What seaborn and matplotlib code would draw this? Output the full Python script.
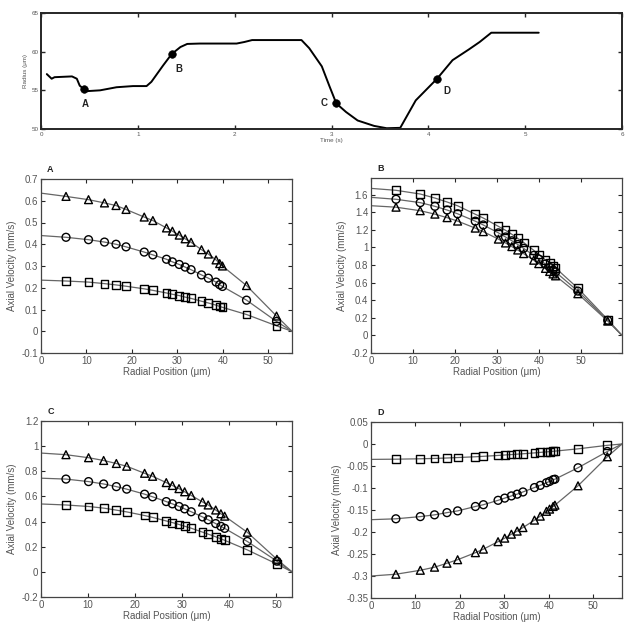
import numpy as np
import pandas as pd
import matplotlib
matplotlib.use("Agg")
import matplotlib.pyplot as plt
import seaborn as sns

sns.set_style("ticks")
plt.rcParams['font.family'] = ['Liberation Sans', 'DejaVu Sans']

# ---------------- top panel: vessel radius vs time ----------------
time_s = [0.06, 0.11, 0.14, 0.32, 0.37, 0.40, 0.44, 0.48, 0.61, 0.78, 0.95, 1.09, 1.14,
          1.26, 1.35, 1.44, 1.51, 1.64, 2.02, 2.10, 2.18, 2.69, 2.77, 2.90, 2.98, 3.05,
          3.15, 3.27, 3.44, 3.57, 3.71, 3.87, 4.09, 4.25, 4.42, 4.53, 4.65, 5.14]
radius_um = [57.1, 56.5, 56.7, 56.8, 56.5, 55.6, 55.2, 54.9, 55.0, 55.4, 55.55, 55.55, 56.1,
             58.2, 59.7, 60.6, 61.0, 61.05, 61.05, 61.25, 61.5, 61.5, 60.45, 58.1, 55.5, 53.3,
             52.2, 51.1, 50.4, 50.1, 50.15, 53.7, 56.5, 58.9, 60.3, 61.25, 62.45, 62.45]
event_labels = ["A", "B", "C", "D"]
event_time = [0.44, 1.35, 3.05, 4.09]
event_radius = [55.2, 59.7, 53.3, 56.5]

# ---------------- velocity profiles ----------------
posA = [5.5, 10.45, 13.96, 16.5, 18.7, 22.7, 24.6, 27.6, 28.9, 30.4, 31.7, 33.0, 35.3,
        36.8, 38.5, 39.3, 39.9, 45.2, 51.8]
A_tri = [0.62, 0.605, 0.59, 0.578, 0.56, 0.525, 0.509, 0.475, 0.46, 0.442, 0.425, 0.409,
         0.375, 0.355, 0.328, 0.311, 0.30, 0.21, 0.07]
A_cir = [0.432, 0.421, 0.41, 0.40, 0.388, 0.364, 0.351, 0.331, 0.319, 0.307, 0.295,
         0.283, 0.259, 0.244, 0.226, 0.214, 0.206, 0.143, 0.045]
A_sq = [0.231, 0.226, 0.219, 0.213, 0.207, 0.195, 0.188, 0.176, 0.17, 0.164, 0.157,
        0.151, 0.138, 0.13, 0.12, 0.114, 0.11, 0.077, 0.025]
A_start = [0.635, 0.44, 0.235]
A_R = 55.2

posB = [5.95, 11.7, 15.2, 18.1, 20.6, 24.8, 26.7, 30.3, 32.0, 33.5, 34.9, 36.3, 38.7,
        39.9, 41.5, 42.5, 43.3, 43.9, 49.2, 56.3]
B_sq = [1.65, 1.608, 1.562, 1.517, 1.474, 1.378, 1.335, 1.24, 1.195, 1.15, 1.103, 1.057,
        0.968, 0.92, 0.858, 0.82, 0.792, 0.767, 0.537, 0.18]
B_cir = [1.548, 1.51, 1.468, 1.426, 1.383, 1.299, 1.256, 1.166, 1.119, 1.076, 1.034, 0.99,
         0.91, 0.869, 0.811, 0.774, 0.744, 0.721, 0.504, 0.172]
B_tri = [1.458, 1.418, 1.379, 1.339, 1.30, 1.22, 1.18, 1.095, 1.051, 1.01, 0.971, 0.93,
         0.855, 0.816, 0.762, 0.727, 0.699, 0.677, 0.474, 0.163]
B_start = [1.672, 1.57, 1.475]
B_R = 59.7

posC = [5.3, 10.1, 13.3, 16.0, 18.2, 22.0, 23.7, 26.6, 27.9, 29.3, 30.5, 31.9, 34.3,
        35.5, 37.1, 38.2, 39.0, 43.8, 50.1]
C_tri = [0.932, 0.908, 0.886, 0.862, 0.84, 0.784, 0.76, 0.71, 0.687, 0.662, 0.637, 0.608,
         0.556, 0.532, 0.492, 0.462, 0.443, 0.315, 0.10]
C_cir = [0.738, 0.718, 0.699, 0.678, 0.658, 0.618, 0.597, 0.559, 0.541, 0.52, 0.501,
         0.478, 0.437, 0.414, 0.384, 0.362, 0.346, 0.242, 0.085]
C_sq = [0.532, 0.52, 0.507, 0.491, 0.477, 0.448, 0.433, 0.405, 0.392, 0.377, 0.363,
        0.347, 0.316, 0.30, 0.279, 0.262, 0.251, 0.175, 0.062]
C_start = [0.945, 0.745, 0.54]
C_R = 53.3

posD = [5.6, 11.1, 14.3, 17.1, 19.5, 23.5, 25.3, 28.6, 30.1, 31.6, 32.9, 34.2, 36.8,
        38.1, 39.5, 40.2, 41.0, 41.4, 46.6, 53.2]
D_sq = [-0.0345, -0.0336, -0.0328, -0.0318, -0.0308, -0.029, -0.028, -0.026, -0.025,
        -0.024, -0.0231, -0.0222, -0.0202, -0.0191, -0.0179, -0.0173, -0.0166, -0.0162,
        -0.011, -0.003]
D_cir = [-0.170, -0.165, -0.161, -0.156, -0.152, -0.142, -0.138, -0.128, -0.123, -0.118,
         -0.114, -0.109, -0.099, -0.094, -0.088, -0.085, -0.081, -0.080, -0.054, -0.017]
D_tri = [-0.296, -0.287, -0.280, -0.271, -0.263, -0.247, -0.239, -0.222, -0.214, -0.205,
         -0.198, -0.19, -0.173, -0.164, -0.153, -0.148, -0.142, -0.139, -0.095, -0.029]
D_start = [-0.035, -0.172, -0.30]
D_R = 56.5

W, H = 632, 628
fig = plt.figure(figsize=(W / 100, H / 100), dpi=100)


def add_ax(l, t, r, b):
    return fig.add_axes([l / W, 1 - b / H, (r - l) / W, (b - t) / H])


def fmt(v):
    v = round(float(v), 4)
    if abs(v) < 1e-9:
        return "0"
    return "%g" % v


GRAY = "#555555"
# ---- top panel ----
ax0 = add_ax(41, 13, 622, 129)
sns.lineplot(x=time_s, y=radius_um, ax=ax0, color="black", lw=1.4, sort=False)
sns.scatterplot(x=event_time, y=event_radius, ax=ax0, color="black", s=30, zorder=5,
                edgecolor="black")
offs = [(-2, -15), (4, -15), (-16, 0), (6, -12)]
for lab, tx, ry, (dx, dy) in zip(event_labels, event_time, event_radius, offs):
    ax0.annotate(lab, (tx, ry), xytext=(dx, dy), textcoords="offset pixels",
                 fontsize=7, fontweight="bold", color="#222222", va="center", ha="left")
ax0.set_xlim(0, 6)
ax0.set_ylim(50, 65)
ax0.set_xticks(range(0, 7))
ax0.set_yticks([50, 55, 60, 65])
ax0.tick_params(direction="in", length=3, width=1, top=True, right=True,
                labelsize=4.5, labelcolor=GRAY, pad=2)
ax0.set_xlabel("Time (s)", fontsize=4.5, color=GRAY, labelpad=1)
ax0.set_ylabel("Radius (\u03bcm)", fontsize=4.5, color=GRAY, labelpad=2)
for sp in ax0.spines.values():
    sp.set_visible(True)
    sp.set_linewidth(1.4)


def profile(box, pos, series, starts, R, ylim, yticks, letter):
    ax = add_ax(*box)
    markers = ["^", "o", "s"]
    for vals, v0, mk in zip(series, starts, markers):
        lx = [0.0] + list(pos) + [R]
        ly = [v0] + list(vals) + [0.0]
        sns.lineplot(x=lx, y=ly, ax=ax, color="#666666", lw=0.9, sort=False)
        sns.scatterplot(x=pos, y=vals, ax=ax, marker=mk, s=32, facecolor="none",
                        edgecolor="black", linewidth=1.0, zorder=4)
    ax.set_xlim(0, R)
    ax.set_ylim(*ylim)
    ax.set_xticks(range(0, int(R) + 1, 10))
    ax.set_yticks(yticks)
    ax.set_yticklabels([fmt(v) for v in yticks])
    ax.tick_params(direction="in", length=3, width=0.8, top=True, right=True,
                   labelsize=7, labelcolor=GRAY, pad=2)
    ax.set_xlabel("Radial Position (\u03bcm)", fontsize=7, color=GRAY, labelpad=1)
    ax.set_ylabel("Axial Velocity (mm/s)", fontsize=7, color=GRAY, labelpad=3)
    for sp in ax.spines.values():
        sp.set_visible(True)
        sp.set_linewidth(0.9)
        sp.set_color("#444444")
    ax.text(0.025, 1.03, letter, transform=ax.transAxes, fontsize=6.5,
            fontweight="bold", color="#222222", ha="left", va="bottom")
    return ax


profile((41, 179, 292, 353), posA, [A_tri, A_cir, A_sq], A_start, A_R,
        (-0.1, 0.7), np.round(np.arange(-0.1, 0.71, 0.1), 2), "A")
profile((371, 178, 622, 353), posB, [B_tri, B_cir, B_sq], B_start[::-1], B_R,
        (-0.2, 1.79), np.round(np.arange(-0.2, 1.61, 0.2), 2), "B")
profile((41, 421, 292, 597), posC, [C_tri, C_cir, C_sq], C_start, C_R,
        (-0.2, 1.2), np.round(np.arange(-0.2, 1.21, 0.2), 2), "C")
profile((371, 422, 622, 598), posD, [D_tri, D_cir, D_sq], D_start[::-1], D_R,
        (-0.35, 0.05), np.round(np.arange(-0.35, 0.051, 0.05), 2), "D")

fig.savefig("out.png", dpi=100)
